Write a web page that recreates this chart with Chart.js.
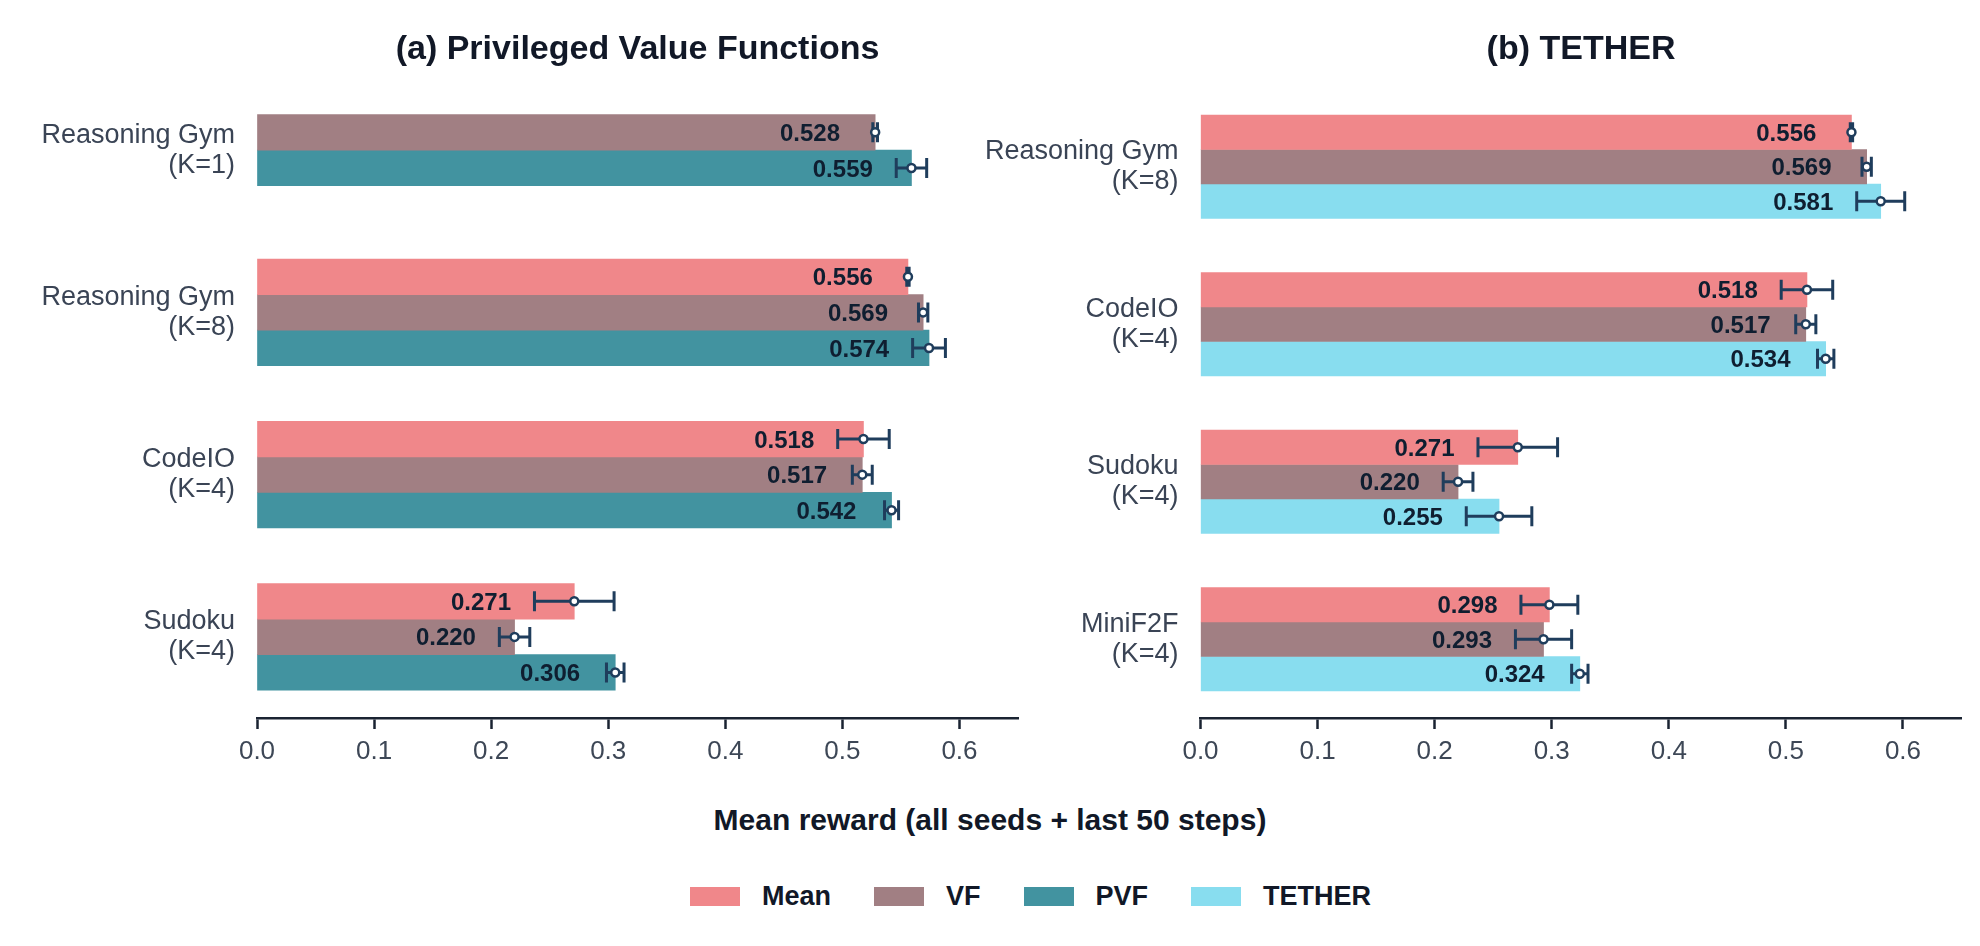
<!DOCTYPE html>
<html>
<head>
<meta charset="utf-8">
<script src="https://cdn.jsdelivr.net/npm/chart.js@4.4.1/dist/chart.umd.min.js"></script>
<style>
  html, body { margin: 0; padding: 0; background: #ffffff; }
  body { width: 1980px; height: 946px; position: relative; overflow: hidden;
         font-family: "Liberation Sans", Arial, Helvetica, sans-serif; }
  canvas { position: absolute; top: 0; }
  #chartA { left: 0; }
  #chartB { left: 960px; }
  #xlabel { position: absolute; left: 0; width: 1980px; top: 805px; line-height: 30px;
            text-align: center; font-size: 30px; font-weight: bold; color: #111827; }
  #legend { position: absolute; left: 690px; top: 883px; height: 27px; display: flex; align-items: center; }
  .item { display: flex; align-items: center; margin-right: 43px; }
  .swatch { width: 50px; height: 19px; margin-right: 22px; }
  .item span { font-size: 27px; line-height: 27px; font-weight: bold; color: #111827; }
</style>
</head>
<body>
<canvas id="chartA" width="1040" height="778" style="width:1040px;height:778px"></canvas>
<canvas id="chartB" width="1020" height="778" style="width:1020px;height:778px"></canvas>
<div id="xlabel">Mean reward (all seeds + last 50 steps)</div>
<div id="legend"></div>
<script>
// panel (a) Privileged Value Functions
const panelACategories = [['Reasoning Gym', '(K=1)'], ['Reasoning Gym', '(K=8)'], ['CodeIO', '(K=4)'], ['Sudoku', '(K=4)']];
const panelAMean = [null, 0.556, 0.518, 0.271];
const panelAMeanErr = [null, 0.001, 0.022, 0.034];
const panelAVF = [0.528, 0.569, 0.517, 0.220];
const panelAVFErr = [0.002, 0.004, 0.0085, 0.013];
const panelAPVF = [0.559, 0.574, 0.542, 0.306];
const panelAPVFErr = [0.013, 0.014, 0.006, 0.0075];

// panel (b) TETHER
const panelBCategories = [['Reasoning Gym', '(K=8)'], ['CodeIO', '(K=4)'], ['Sudoku', '(K=4)'], ['MiniF2F', '(K=4)']];
const panelBMean = [0.556, 0.518, 0.271, 0.298];
const panelBMeanErr = [0.001, 0.022, 0.034, 0.0243];
const panelBVF = [0.569, 0.517, 0.220, 0.293];
const panelBVFErr = [0.004, 0.0086, 0.0127, 0.024];
const panelBTether = [0.581, 0.534, 0.255, 0.324];
const panelBTetherErr = [0.0205, 0.007, 0.028, 0.007];

const xTickLabels = ['0.0', '0.1', '0.2', '0.3', '0.4', '0.5', '0.6'];
const seriesNames = ['Mean', 'VF', 'PVF', 'TETHER'];

const FONT = '"Liberation Sans", Arial, Helvetica, sans-serif';
const colors = {
    Mean: '#F0878A',
    VF: '#A17F83',
    PVF: '#4293A0',
    TETHER: '#88DDEF'
};
const ERR_COLOR = '#1f3d5c';

// panel title, centred over the plot area
const panelTitlePlugin = {
    id: 'panelTitle',
    afterDraw(chart, args, opts) {
        const ctx = chart.ctx;
        const area = chart.chartArea;
        ctx.save();
        ctx.font = 'bold 34px ' + FONT;
        ctx.fillStyle = '#111827';
        ctx.textAlign = 'center';
        ctx.textBaseline = 'alphabetic';
        ctx.fillText(opts.text, (area.left + area.right) / 2, 59);
        ctx.restore();
    }
};

// error bars, mean markers and value labels, drawn through the x scale
const errorBarPlugin = {
    id: 'errorBars',
    afterDatasetsDraw(chart) {
        const ctx = chart.ctx;
        const xScale = chart.scales.x;
        chart.data.datasets.forEach((ds, di) => {
            const meta = chart.getDatasetMeta(di);
            meta.data.forEach((bar, i) => {
                const v = ds.data[i];
                if (v === null || v === undefined) return;
                const e = ds.errors[i];
                const y = bar.y;
                const xv = xScale.getPixelForValue(v);
                const xl = xScale.getPixelForValue(v - e);
                const xh = xScale.getPixelForValue(v + e);
                const xt = xScale.getPixelForValue(Math.min(v - 0.03, v - e - 0.02));

                ctx.save();
                ctx.font = 'bold 24px ' + FONT;
                ctx.fillStyle = '#0f1e30';
                ctx.textAlign = 'right';
                ctx.textBaseline = 'alphabetic';
                ctx.fillText(v.toFixed(3), xt, y + 8.6);

                ctx.strokeStyle = ERR_COLOR;
                ctx.lineWidth = 3;
                ctx.beginPath();
                ctx.moveTo(xl, y); ctx.lineTo(xh, y);
                ctx.moveTo(xl, y - 10); ctx.lineTo(xl, y + 10);
                ctx.moveTo(xh, y - 10); ctx.lineTo(xh, y + 10);
                ctx.stroke();

                ctx.beginPath();
                ctx.arc(xv, y, 4, 0, Math.PI * 2);
                ctx.fillStyle = '#ffffff';
                ctx.fill();
                ctx.lineWidth = 2.5;
                ctx.stroke();
                ctx.restore();
            });
        });
    }
};

function buildChart(canvasId, categories, series, titleText, opts) {
    const ctx = document.getElementById(canvasId).getContext('2d');
    return new Chart(ctx, {
        type: 'bar',
        data: {
            labels: categories,
            datasets: series.map(s => ({
                label: s.name,
                data: s.data,
                errors: s.errors,
                backgroundColor: colors[s.name],
                borderWidth: 0,
                barThickness: opts.barSize,
                skipNull: true
            }))
        },
        options: {
            indexAxis: 'y',
            responsive: false,
            animation: false,
            devicePixelRatio: 1,
            layout: { padding: { left: 0, right: opts.padRight, top: opts.padTop, bottom: 0 } },
            plugins: {
                legend: { display: false },
                tooltip: { enabled: false },
                title: { display: false },
                panelTitle: { text: titleText }
            },
            scales: {
                x: {
                    min: 0,
                    max: 0.65,
                    border: { display: true, color: '#1a2332', width: 2.5 },
                    grid: { display: true, drawOnChartArea: false, drawTicks: true,
                            tickLength: 11, tickWidth: 2.5, tickColor: '#1a2332' },
                    ticks: {
                        stepSize: 0.1,
                        includeBounds: false,
                        padding: 7,
                        color: '#3d4756',
                        font: { family: FONT, size: 26 },
                        callback: (value, index) => xTickLabels[index]
                    },
                    afterFit: scale => { scale.height = 60; }
                },
                y: {
                    border: { display: false },
                    grid: { display: false, drawTicks: false },
                    ticks: {
                        padding: 22,
                        color: '#3a4455',
                        font: { family: FONT, size: 27, lineHeight: 1.11 }
                    },
                    afterFit: scale => { scale.width = opts.yWidth; }
                }
            }
        },
        plugins: [errorBarPlugin, panelTitlePlugin]
    });
}

buildChart('chartA', panelACategories, [
    { name: 'Mean', data: panelAMean, errors: panelAMeanErr },
    { name: 'VF', data: panelAVF, errors: panelAVFErr },
    { name: 'PVF', data: panelAPVF, errors: panelAPVFErr }
], '(a) Privileged Value Functions', { barSize: 35.6, padRight: 22, padTop: 69, yWidth: 257 });

buildChart('chartB', panelBCategories, [
    { name: 'Mean', data: panelBMean, errors: panelBMeanErr },
    { name: 'VF', data: panelBVF, errors: panelBVFErr },
    { name: 'TETHER', data: panelBTether, errors: panelBTetherErr }
], '(b) TETHER', { barSize: 34.5, padRight: 18.5, padTop: 88, yWidth: 240.5 });

// shared legend
const legend = document.getElementById('legend');
seriesNames.forEach(name => {
    const item = document.createElement('div');
    item.className = 'item';
    const sw = document.createElement('div');
    sw.className = 'swatch';
    sw.style.background = colors[name];
    const label = document.createElement('span');
    label.textContent = name;
    item.appendChild(sw);
    item.appendChild(label);
    legend.appendChild(item);
});
</script>
</body>
</html>
